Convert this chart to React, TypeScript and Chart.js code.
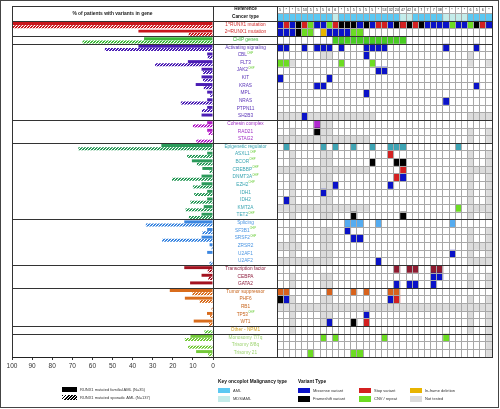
import React, { useEffect, useRef } from "react";
import { Chart, registerables } from "chart.js";

Chart.register(...registerables);

const FONT = "'Liberation Sans', Arial, Helvetica, sans-serif";

// ---------- data ----------
const headerRows = ["Reference", "Cancer type"];

const geneRows = [
  "1st RUNX1 mutation", "2nd RUNX1 mutation", "CHIP genes",
  "Activating signaling", "CBL", "FLT3", "JAK2", "KIT", "KRAS", "MPL", "NRAS", "PTPN11", "SH2B3",
  "Cohesin complex", "RAD21", "STAG2",
  "Epigenetic regulator", "ASXL1", "BCOR", "CREBBP", "DNMT3A", "EZH2", "IDH1", "IDH2", "KMT2A", "TET2",
  "Splicing", "SF3B1", "SRSF2", "ZRSR2", "U2AF1", "U2AF2",
  "Transcription factor", "CEBPA", "GATA2",
  "Tumor suppressor", "PHF6", "RB1", "TP53", "WT1",
  "Other - NPM1",
  "Monosomy 7/7q", "Trisomy 8/8q", "Trisomy 21",
];

const geneGroups = [
  "runx", "runx", "chip",
  "act", "act", "act", "act", "act", "act", "act", "act", "act", "act",
  "coh", "coh", "coh",
  "epi", "epi", "epi", "epi", "epi", "epi", "epi", "epi", "epi", "epi",
  "spl", "spl", "spl", "spl", "spl", "spl",
  "tf", "tf", "tf",
  "ts", "ts", "ts", "ts", "ts",
  "npm",
  "chr", "chr", "chr",
];

const chipGenes = ["CBL", "JAK2", "ASXL1", "BCOR", "CREBBP", "DNMT3A", "EZH2", "TET2", "SF3B1", "SRSF2", "TP53"];

// % of patients, RUNX1 mutated familial AML (N=35)
const familialPct = [
  100, 37.1, 34.3,
  37.1, 2.9, 12.5, 5.7, 5.7, 8.6, 2.9, 2.9, 2.9, 5.7,
  2.9, 2.9, 0,
  25.7, 2.9, 10.5, 5.3, 5.7, 5.7, 2.9, 2.9, 4.6, 5.7,
  14.3, 2.9, 5.7, 1.7, 2.9, 0,
  14.3, 5.7, 11.4,
  21.5, 14, 0, 3, 9.6,
  0,
  11.2, 0, 8.4,
];

// % of patients, RUNX1 mutated sporadic AML (N=137)
const sporadicPct = [
  100, 12.1, 64.9,
  53.8, 2.6, 28.8, 5, 5, 4.6, 1.5, 16, 5.5, 0,
  10, 2.2, 8.3,
  67, 12.9, 8, 1.7, 20.4, 10, 9.4, 11.3, 13.6, 12,
  33.4, 5.3, 25.3, 0.7, 0, 1.7,
  2.6, 2.3, 0,
  10.3, 6.6, 0.7, 1.5, 2,
  4.3,
  14, 12.4, 2.5,
];

const xTickValues = [100, 90, 80, 70, 60, 50, 40, 30, 20, 10, 0];

// one entry per familial patient (column)
const referenceIds = [
  "5", "*", "*", "5", "53", "5", "5", "5", "6", "6", "*", "5", "5", "5", "5", "5", "*",
  "53", "32", "24", "47", "42", "6", "7", "7", "7", "38", "*", "*", "*", "*", "6", "5", "6", "*",
];

// A = AML, D = MDS/AML
const cancerTypes = "AAAAA AAAAD AAAAA AAAAA DDAAA AADDD DAAAA";

// M missense, F frameshift, S stop, C CNV/repeat, I in-frame deletion, N not tested, X category hit, . none
const variantCells = [
  "MSMFS CMMCS FFFMF MSSMF SFSFM MMMCM MCFSM",
  "MMMFC C.IMM MMCC. ..... ..... ..... .....",
  "..... ....X XXXXX XXXXX X.... ..... .....",
  "XX..X .XXX. X...X XXX.. ..... ..X.. ..X..",
  "..... ..NN. ....M ..... ..... ..... .N...",
  "CCN.. ..... C.... C.... ..... ..... .N..N",
  "..... ..... ..... .MM.. ..... ..... .....",
  "M.... ...M. ..... ..... ..... ..... .....",
  "..... .MM.. ..... ..... ..... ..... ..M..",
  "..... ..... ....M ..... ..... ..... .....",
  "..... ..... ..... ..... ..... ..M.. .....",
  "..... ..... ..... ..... ..... ..... .....",
  "NNNNM NNNNN NNNNN N.... ..... ..... .NNNN",
  "..... .XNN. ..... ..... ..... ..... .....",
  "..N.. .FNN. ..... ..... ..... ..... .N..N",
  "NNNNN NNNNN NNNNN ..... ..... ..... .N..N",
  ".X... ..X.X ..X.. X..XX X.... ....X .....",
  "..N.. ..NN. ..... ...S. ..... ..... .N..N",
  "..N.. ..NN. ..... F...F F.... ..... .N..N",
  "NNNNN NNNNN NNNNN ..... S.... ..... .NNNN",
  "..N.. ..NN. ..... ....S M.... ..... .N..N",
  "..N.. ..NNM ..... ...M. ..... ..... .N..N",
  "..N.. ..MN. ..... ..... ..... ..... .N..N",
  ".MN.. ..NN. ..... ..... ..... ..... .N..N",
  "NNNNN NNNNN NNNNN ..... ..... ....C .NNNN",
  "..N.. ..NN. ..F.. ..... F.... ..... .N..N",
  "..... ..... .XXX. .X... ..... ...X. .....",
  "..N.. ..NN. .M... ..... ..... ..... .N..N",
  "..N.. ..NN. ..MM. ..... ..... ..... .N..N",
  "NNNN. ..NN. ..... ..... ..... ..... .NNNN",
  "..N.. ..NN. ..... ..... ..... ...M. .N..N",
  "NNNNN NNNN. ..... .M... ..... ..... .NNNN",
  "..... ..... ..... ....X .XX.. XX... .....",
  "..N.. ..NN. ..... ..... ..... MM... .N..N",
  "..N.. ..NN. ..... ....M .MM.. M.... .N..N",
  "XX... ...X. ..X.X ...XX ..... ..... .....",
  "FMN.. ..NN. ..... ...MS ..... ..... .N..N",
  "NNNNN NNNNN NNNNN NNNNN NNNNN NNNNN NNNNN",
  "..N.. ..NN. ....M ..... ..... ..... .N..N",
  "..N.. ..NM. ..F.S ..... ..... ..... .N..N",
  "..N.. ..... ..... ..... ..... ..... .N..N",
  "..... ..C.C ..... ..C.. ..... ..C.. ....N",
  "..... ..... ..... ..... ..... ..... ....N",
  "..... C.... ..CC. ..... ..... ..... ....N",
];

// rows (in the full 46-row list) where a new group starts
const groupBreaks = [2, 4, 5, 15, 18, 28, 34, 37, 42, 43];

// ---------- styles ----------
const GROUP_BAR: any = {
  runx: "#c9161c", chip: "#3cb83a", act: "#4b1db4", coh: "#b21cc6", epi: "#2b9a5a",
  spl: "#3b86e0", tf: "#a3111f", ts: "#d96c1c", npm: "#5cc83a", chr: "#74c93a",
};
const GROUP_TEXT: any = {
  runx: "#d42c2c", chip: "#3cba3c", act: "#5a34b8", coh: "#a232c6", epi: "#3aa5b2",
  spl: "#4a95e2", tf: "#8e1d3d", ts: "#c8661e", npm: "#d6a21e", chr: "#9fd473",
};
const GROUP_CELL: any = {
  chip: "#48cc22", act: "#0a12c8", coh: "#b02ad0", epi: "#3ea4b4", spl: "#55acf0", tf: "#8e1b30", ts: "#d8621c",
};
const VARIANT_COLOR: any = {
  M: "#0a12c8", F: "#000000", S: "#d42020", C: "#6cdc22", I: "#e8b400", N: "#dcdcdc", ".": "#ffffff",
};
const CANCER_COLOR: any = { A: "#5cc8f2", D: "#c4ecea" };

const TOP = 6;
const BOTTOM = 357;
const NROWS = headerRows.length + geneRows.length;
const ROW_H = (BOTTOM - TOP) / NROWS;

function makeHatch(color: string) {
  const size = 3;
  const c = document.createElement("canvas");
  c.width = size;
  c.height = size;
  const g = c.getContext("2d")!;
  g.fillStyle = color;
  g.fillRect(0, 0, size, size);
  g.strokeStyle = "#ffffff";
  g.lineWidth = 1;
  g.beginPath();
  for (const k of [-size, 0, size]) {
    g.moveTo(k, size);
    g.lineTo(k + size, 0);
  }
  g.stroke();
  return g.createPattern(c, "repeat");
}

function hLine(ctx: any, y: number, x0: number, x1: number) {
  const p = Math.floor(y) + 0.5;
  ctx.beginPath();
  ctx.moveTo(x0, p);
  ctx.lineTo(x1, p);
  ctx.stroke();
}
function vLine(ctx: any, x: number, y0: number, y1: number) {
  const p = Math.floor(x) + 0.5;
  ctx.beginPath();
  ctx.moveTo(p, y0);
  ctx.lineTo(p, y1);
  ctx.stroke();
}

const barFrame = {
  id: "barFrame",
  afterDraw(chart: any) {
    const { ctx, chartArea: ca } = chart;
    const y = chart.scales.y;
    ctx.save();
    ctx.strokeStyle = "#333333";
    ctx.lineWidth = 1;
    hLine(ctx, ca.top, ca.left, ca.right + 1);
    groupBreaks.forEach((b) => hLine(ctx, y.getPixelForValue(b - 0.5), ca.left, ca.right + 1));
    vLine(ctx, ca.left, ca.top, ca.bottom);
    vLine(ctx, ca.right, ca.top, ca.bottom);
    ctx.restore();
  },
};

const gridFrame = {
  id: "gridFrame",
  afterDraw(chart: any) {
    const { ctx, chartArea: ca } = chart;
    const x = chart.scales.x;
    const y = chart.scales.y;
    ctx.save();
    ctx.fillStyle = "#222222";
    ctx.font = `3.6px ${FONT}`;
    ctx.textAlign = "center";
    ctx.textBaseline = "middle";
    referenceIds.forEach((t, c) => ctx.fillText(t, x.getPixelForValue(c + 0.5), y.getPixelForValue(0) + 0.4));
    ctx.strokeStyle = "#333333";
    ctx.lineWidth = 1;
    hLine(ctx, ca.top, 0, ca.right + 1);
    groupBreaks.forEach((b) => hLine(ctx, y.getPixelForValue(b - 0.5), 0, ca.right + 1));
    hLine(ctx, ca.bottom, 0, ca.right + 1);
    vLine(ctx, ca.left, ca.top, ca.bottom);
    vLine(ctx, ca.right, ca.top, ca.bottom);
    ctx.restore();
  },
};

function RowLabel({ text, group, index }: { text: string; group: string; index: number }) {
  const top = TOP + index * ROW_H;
  const isHeader = group === "hdr";
  let content: any = text;
  const m = text.match(/^(\d)(st|nd) (.*)$/);
  if (m) {
    content = (
      <>
        {m[1]}
        <span style={{ fontSize: 2.8, position: "relative", top: -1.4 }}>{m[2]}</span>
        {" "}
        {m[3]}
      </>
    );
  } else if (chipGenes.includes(text)) {
    content = (
      <>
        {text}
        <span style={{ fontSize: 2.6, position: "relative", top: -1.8, color: "#66cc33", marginLeft: 0.2 }}>CHIP</span>
      </>
    );
  }
  return (
    <div
      style={{
        position: "absolute",
        left: 214,
        width: 63,
        top,
        height: ROW_H,
        display: "flex",
        alignItems: "center",
        justifyContent: "center",
        fontSize: isHeader ? 4.7 : 4.75,
        fontWeight: isHeader ? "bold" : "normal",
        color: isHeader ? "#111" : GROUP_TEXT[group],
        whiteSpace: "nowrap",
        lineHeight: 1,
      }}
    >
      {content}
    </div>
  );
}

function Swatch({ left, top, w, h, bg, label, bold }: any) {
  return (
    <>
      <div style={{ position: "absolute", left, top, width: w, height: h, background: bg }} />
      <div
        style={{
          position: "absolute",
          left: left + w + 3,
          top: top - 1,
          height: h + 2,
          lineHeight: `${h + 2}px`,
          fontSize: 4,
          color: "#333",
          whiteSpace: "nowrap",
          fontWeight: bold ? "bold" : "normal",
        }}
      >
        {label}
      </div>
    </>
  );
}

export default function App() {
  const barRef = useRef<HTMLCanvasElement>(null);
  const gridRef = useRef<HTMLCanvasElement>(null);

  useEffect(() => {
    const allLabels = [...headerRows, ...geneRows];
    const allGroups = ["hdr", "hdr", ...geneGroups];
    const solidColors = allGroups.map((g) => GROUP_BAR[g] || "#ffffff");
    const hatchColors = allGroups.map((g) => makeHatch(GROUP_BAR[g] || "#ffffff"));
    const pad = headerRows.map(() => null);

    const bar = new Chart(barRef.current!, {
      type: "bar",
      data: {
        labels: allLabels,
        datasets: [
          {
            label: "RUNX1 mutated familial AML (N=35)",
            data: [...pad, ...familialPct],
            backgroundColor: solidColors,
            borderWidth: 0,
            categoryPercentage: 0.84,
            barPercentage: 0.92,
          },
          {
            label: "RUNX1 mutated sporadic AML (N=137)",
            data: [...pad, ...sporadicPct],
            backgroundColor: hatchColors as any,
            borderWidth: 0,
            categoryPercentage: 0.84,
            barPercentage: 0.92,
          },
        ],
      },
      options: {
        indexAxis: "y",
        responsive: false,
        animation: false,
        layout: { padding: { left: 12, right: 17, top: TOP, bottom: 0 } },
        plugins: { legend: { display: false }, tooltip: { enabled: false } },
        scales: {
          x: {
            type: "linear",
            reverse: true,
            min: 0,
            max: 100,
            afterBuildTicks: (s: any) => {
              s.ticks = xTickValues.map((v) => ({ value: v }));
            },
            ticks: {
              font: { size: 6.5, family: FONT },
              color: "#333",
              padding: 2,
              maxRotation: 0,
              autoSkip: false,
            },
            grid: { drawOnChartArea: false, tickLength: 3, color: "#333" },
            border: { color: "#222", width: 1 },
            afterFit: (s: any) => {
              s.height = 23;
            },
          },
          y: { type: "category", display: false },
        },
      } as any,
      plugins: [barFrame],
    });

    const cells = variantCells.map((s) => s.replace(/ /g, ""));
    const cancer = cancerTypes.replace(/ /g, "");
    const colorAt = (r: number, c: number) => {
      if (r === 0) return "#ffffff";
      if (r === 1) return CANCER_COLOR[cancer[c]];
      const ch = cells[r - 2][c];
      if (ch === "X") return GROUP_CELL[geneGroups[r - 2]];
      return VARIANT_COLOR[ch] || "#ffffff";
    };

    const grid = new Chart(gridRef.current!, {
      type: "bar",
      data: {
        labels: allLabels,
        datasets: referenceIds.map((ref, c) => ({
          label: `Patient ${c + 1} (ref ${ref})`,
          data: allLabels.map(() => 1),
          backgroundColor: allLabels.map((_, r) => colorAt(r, c)),
          borderWidth: 0,
          barPercentage: 1,
          categoryPercentage: 1,
          stack: "patients",
        })),
      },
      options: {
        indexAxis: "y",
        responsive: false,
        animation: false,
        layout: { padding: { left: 64, right: 8, top: TOP, bottom: 1 } },
        plugins: { legend: { display: false }, tooltip: { enabled: false } },
        scales: {
          x: {
            type: "linear",
            stacked: true,
            min: 0,
            max: referenceIds.length,
            ticks: { display: false, stepSize: 1 },
            grid: { z: 1, color: "#a8a8a8", lineWidth: 1, drawTicks: false },
            border: { display: false },
            afterFit: (s: any) => {
              s.height = 0;
            },
          },
          y: {
            type: "category",
            stacked: true,
            offset: true,
            ticks: { display: false, autoSkip: false },
            grid: { z: 1, color: "#a8a8a8", lineWidth: 1, drawTicks: false, offset: true },
            border: { display: false },
            afterFit: (s: any) => {
              s.width = 0;
            },
          },
        },
      } as any,
      plugins: [gridFrame],
    });

    return () => {
      bar.destroy();
      grid.destroy();
    };
  }, []);

  const allGroups = ["hdr", "hdr", ...geneGroups];
  const allLabels = [...headerRows, ...geneRows];

  return (
    <div
      style={{
        position: "absolute",
        left: 0,
        top: 0,
        width: 500,
        height: 409,
        background: "#ffffff",
        fontFamily: FONT,
        overflow: "hidden",
      }}
    >
      <div
        style={{
          position: "absolute",
          left: 0,
          top: 0,
          width: 499,
          height: 408,
          border: "1px solid #444",
          boxSizing: "border-box",
        }}
      />
      <canvas ref={barRef} width={230} height={380} style={{ position: "absolute", left: 0, top: 0 }} />
      <canvas ref={gridRef} width={287} height={358} style={{ position: "absolute", left: 213, top: 0 }} />

      <div
        style={{
          position: "absolute",
          left: 12,
          width: 201,
          top: TOP,
          height: ROW_H * 2,
          display: "flex",
          alignItems: "center",
          justifyContent: "center",
          fontSize: 4.9,
          fontWeight: "bold",
          color: "#222",
          whiteSpace: "nowrap",
        }}
      >
        % of patients with variants in gene
      </div>

      {allLabels.map((t, i) => (
        <RowLabel key={i} text={t} group={allGroups[i]} index={i} />
      ))}

      {/* bar legend */}
      <Swatch left={62} top={386.5} w={15} h={5} bg="#000" label="RUNX1 mutated familial AML (N=35)" />
      <Swatch
        left={62}
        top={395}
        w={15}
        h={5}
        bg="repeating-linear-gradient(135deg, #000 0px, #000 1.3px, #fff 1.3px, #fff 2.2px)"
        label="RUNX1 mutated sporadic AML (N=137)"
      />

      {/* oncoplot key */}
      <div style={{ position: "absolute", left: 218, top: 378.5, fontSize: 4.8, fontWeight: "bold", color: "#111", whiteSpace: "nowrap" }}>
        Key oncoplot Malignancy type
      </div>
      <Swatch left={218} top={387.5} w={12} h={5.5} bg="#5cc8f2" label="AML" />
      <Swatch left={218} top={396.2} w={12} h={5.5} bg="#c4ecea" label="MDS/AML" />

      <div style={{ position: "absolute", left: 298, top: 378.5, fontSize: 4.8, fontWeight: "bold", color: "#111", whiteSpace: "nowrap" }}>
        Variant Type
      </div>
      <Swatch left={298} top={387.5} w={12} h={5.5} bg={VARIANT_COLOR.M} label="Missense variant" />
      <Swatch left={298} top={396.2} w={12} h={5.5} bg={VARIANT_COLOR.F} label="Frameshift variant" />
      <Swatch left={359} top={387.5} w={12} h={5.5} bg={VARIANT_COLOR.S} label="Stop variant" />
      <Swatch left={359} top={396.2} w={12} h={5.5} bg={VARIANT_COLOR.C} label="CNV / repeat" />
      <Swatch left={410} top={387.5} w={12} h={5.5} bg={VARIANT_COLOR.I} label="In-frame deletion" />
      <Swatch left={410} top={396.2} w={12} h={5.5} bg={VARIANT_COLOR.N} label="Not tested" />
    </div>
  );
}
